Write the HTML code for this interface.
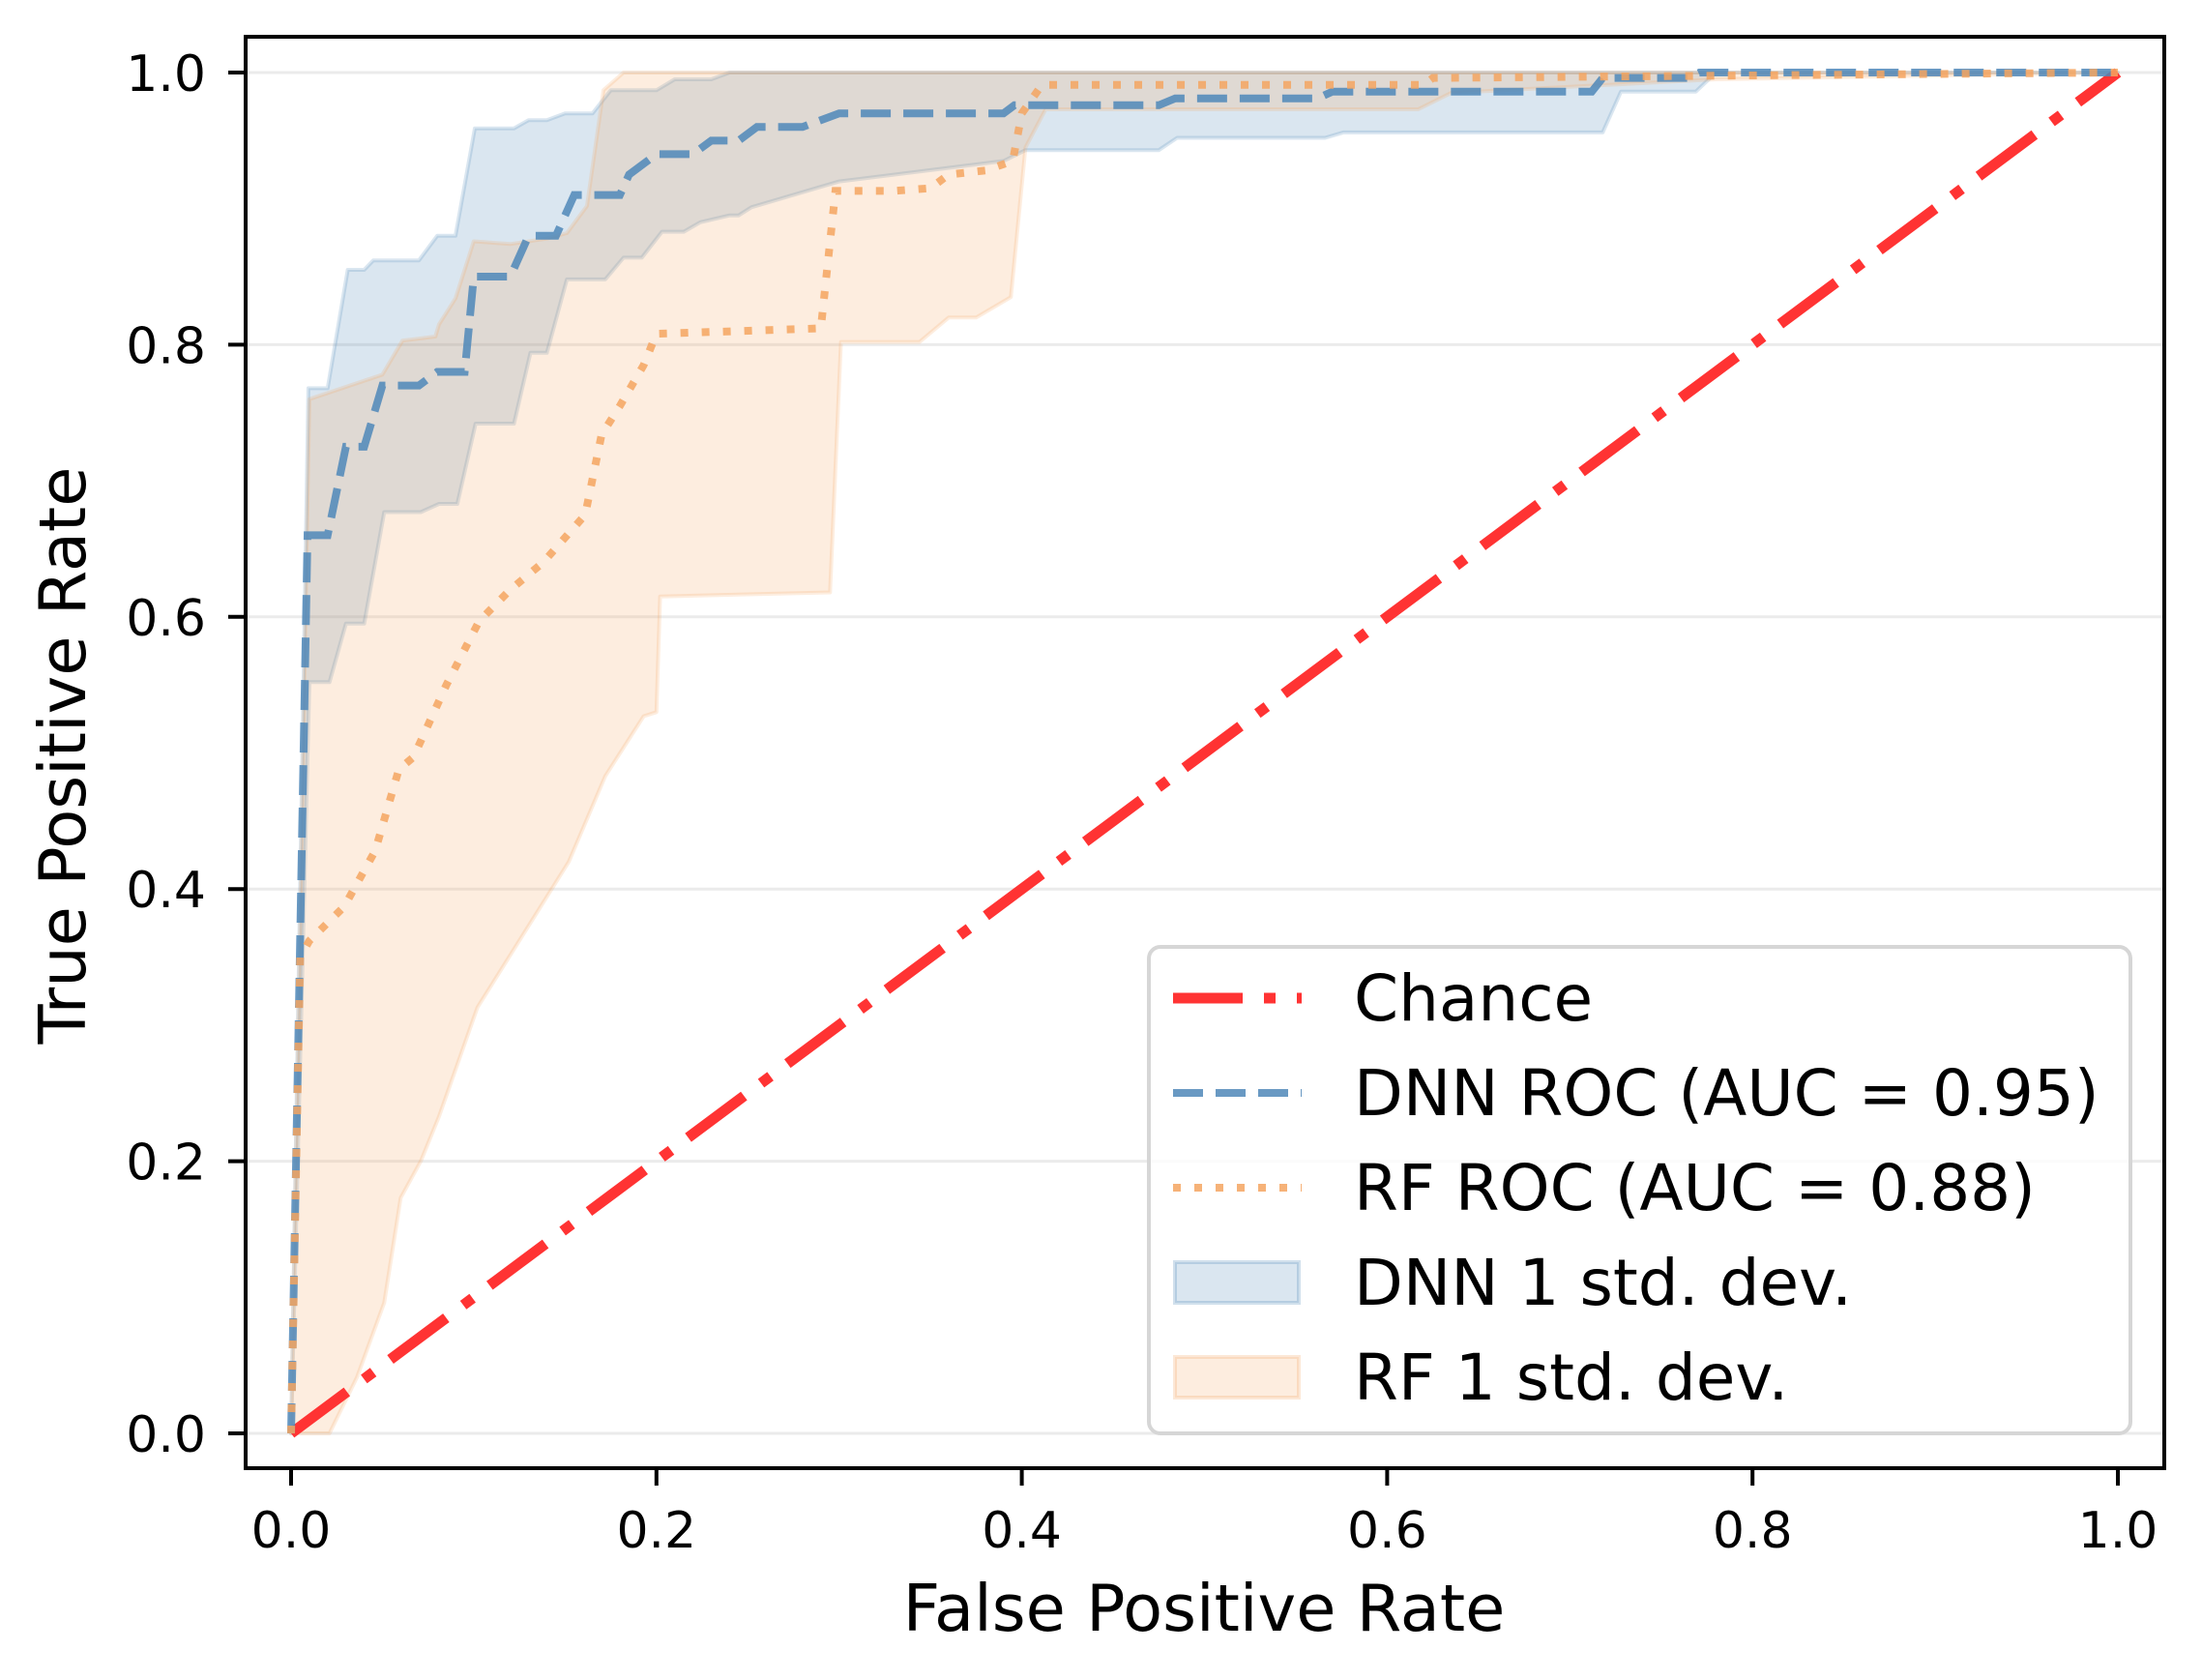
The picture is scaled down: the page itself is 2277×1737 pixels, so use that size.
<!DOCTYPE html>
<html><head><meta charset="utf-8">
<style>
html,body{margin:0;padding:0;background:#fff;}
svg{display:block;}
text{font-family:"DejaVu Sans","Liberation Sans",sans-serif;fill:#000;}
</style></head>
<body>
<svg id="chart" width="2277" height="1737" viewBox="0 0 2277 1737" xmlns="http://www.w3.org/2000/svg">
<rect x="0" y="0" width="2277" height="1737" fill="#fff"/>
<g id="grid"></g>
<g id="bands"></g>
<g id="lines"></g>
<rect x="254" y="38" width="1984" height="1480" fill="none" stroke="#000" stroke-width="4"/>
<g id="ticks"></g>
<text x="1245" y="1686" font-size="67" text-anchor="middle">False Positive Rate</text>
<text x="0" y="0" font-size="67" text-anchor="middle" transform="translate(88,781) rotate(-90)">True Positive Rate</text>
<g>
<rect x="1188" y="979" width="1015" height="503" rx="12" fill="#fff" fill-opacity="0.8" stroke="#d6d6d6" stroke-width="4"/>
<line x1="1213" y1="1032" x2="1346" y2="1032" stroke="#ff3333" stroke-width="11" stroke-dasharray="72 22 12 22"/>
<text x="1400" y="1055" font-size="66">Chance</text>
<line x1="1213" y1="1130" x2="1346" y2="1130" stroke="#4f87b9" stroke-opacity="0.85" stroke-width="8" stroke-dasharray="31 13"/>
<text x="1400" y="1153" font-size="66">DNN ROC (AUC = 0.95)</text>
<line x1="1213" y1="1228" x2="1346" y2="1228" stroke="#f4a460" stroke-opacity="0.85" stroke-width="8" stroke-dasharray="8 14"/>
<text x="1400" y="1251" font-size="66">RF ROC (AUC = 0.88)</text>
<rect x="1215" y="1305" width="128" height="42" fill="rgba(70,130,180,0.2)" stroke="rgba(70,130,180,0.25)" stroke-width="4"/>
<text x="1400" y="1349" font-size="66">DNN 1 std. dev.</text>
<rect x="1215" y="1403" width="128" height="42" fill="rgba(244,164,96,0.2)" stroke="rgba(244,164,96,0.25)" stroke-width="4"/>
<text x="1400" y="1447" font-size="66">RF 1 std. dev.</text>
</g>
</svg>
<script>
const xTicks = [0, 0.2, 0.4, 0.6, 0.8, 1.0];
const yTicks = [0, 0.2, 0.4, 0.6, 0.8, 1.0];
const tickLabels = ["0.0", "0.2", "0.4", "0.6", "0.8", "1.0"];
const chanceFpr = [0, 1];
const chanceTpr = [0, 1];
const dnnFpr = [0, 0.009, 0.02, 0.03, 0.04, 0.05, 0.07, 0.08, 0.095, 0.10, 0.12, 0.13, 0.145, 0.155, 0.18, 0.185, 0.20, 0.22, 0.23, 0.245, 0.255, 0.28, 0.29, 0.30, 0.39, 0.396, 0.475, 0.484, 0.562, 0.570, 0.712, 0.718, 0.765, 0.771, 1.0];
const dnnTpr = [0, 0.66, 0.66, 0.725, 0.725, 0.77, 0.77, 0.78, 0.78, 0.85, 0.85, 0.88, 0.88, 0.91, 0.91, 0.925, 0.94, 0.94, 0.95, 0.95, 0.96, 0.96, 0.965, 0.970, 0.970, 0.976, 0.976, 0.981, 0.981, 0.986, 0.986, 0.996, 0.996, 1.0, 1.0];
const dnnUpperFpr = [0, 0.0095, 0.02, 0.031, 0.04, 0.045, 0.07, 0.08, 0.09, 0.1006, 0.122, 0.13, 0.14, 0.15, 0.165, 0.175, 0.20, 0.21, 0.23, 0.24, 1.0];
const dnnUpperTpr = [0, 0.768, 0.768, 0.855, 0.855, 0.862, 0.862, 0.88, 0.88, 0.959, 0.959, 0.965, 0.965, 0.97, 0.97, 0.987, 0.987, 0.995, 0.995, 1.0, 1.0];
const dnnLowerFpr = [0, 0.01, 0.021, 0.030, 0.040, 0.051, 0.071, 0.081, 0.091, 0.101, 0.122, 0.131, 0.14, 0.151, 0.172, 0.182, 0.192, 0.203, 0.215, 0.224, 0.24, 0.245, 0.252, 0.30, 0.39, 0.402, 0.475, 0.485, 0.566, 0.576, 0.718, 0.728, 0.769, 0.78, 1.0];
const dnnLowerTpr = [0, 0.552, 0.552, 0.595, 0.595, 0.677, 0.677, 0.683, 0.683, 0.742, 0.742, 0.794, 0.794, 0.848, 0.848, 0.864, 0.864, 0.883, 0.883, 0.890, 0.895, 0.895, 0.901, 0.92, 0.935, 0.943, 0.943, 0.952, 0.952, 0.956, 0.956, 0.986, 0.986, 1.0, 1.0];
const rfFpr = [0, 0.005, 0.010, 0.029, 0.046, 0.059, 0.067, 0.085, 0.103, 0.12, 0.138, 0.161, 0.170, 0.18, 0.193, 0.20, 0.29, 0.298, 0.33, 0.35, 0.36, 0.38, 0.395, 0.40, 0.411, 0.62, 0.625, 1.0];
const rfTpr = [0, 0.35, 0.362, 0.387, 0.428, 0.488, 0.497, 0.55, 0.597, 0.62, 0.640, 0.675, 0.734, 0.755, 0.785, 0.808, 0.812, 0.913, 0.913, 0.915, 0.925, 0.928, 0.935, 0.97, 0.991, 0.991, 0.996, 1.0];
const rfUpperFpr = [0, 0.01, 0.05, 0.061, 0.079, 0.081, 0.09, 0.10, 0.12, 0.14, 0.151, 0.162, 0.171, 0.182, 1.0];
const rfUpperTpr = [0, 0.760, 0.778, 0.803, 0.806, 0.815, 0.834, 0.876, 0.874, 0.878, 0.882, 0.902, 0.987, 1.0, 1.0];
const rfLowerFpr = [0, 0.021, 0.036, 0.051, 0.060, 0.071, 0.081, 0.102, 0.152, 0.172, 0.193, 0.20, 0.202, 0.295, 0.301, 0.344, 0.36, 0.375, 0.394, 0.402, 0.413, 0.617, 0.635, 0.78, 1.0];
const rfLowerTpr = [0, 0, 0.041, 0.096, 0.173, 0.2, 0.233, 0.313, 0.42, 0.483, 0.527, 0.53, 0.615, 0.618, 0.802, 0.802, 0.82, 0.82, 0.835, 0.945, 0.973, 0.973, 0.985, 0.995, 1.0];

const X0 = 301, X1 = 2190, Y0 = 1482, Y1 = 75;
function sx(v){ return X0 + v * (X1 - X0); }
function sy(v){ return Y0 - v * (Y0 - Y1); }
const NS = "http://www.w3.org/2000/svg";
function mk(tag, attrs, parent){
  const el = document.createElementNS(NS, tag);
  for (const k in attrs) el.setAttribute(k, attrs[k]);
  parent.appendChild(el);
  return el;
}
function pts(xs, ys){ return xs.map((x, i) => sx(x).toFixed(1) + "," + sy(ys[i]).toFixed(1)); }

const grid = document.getElementById("grid");
yTicks.forEach((v, i) => {
  const g = mk("line", {x1: 254, x2: 2238, y1: sy(v), y2: sy(v), stroke: "#ebebeb", "stroke-width": 3}, grid);
  
  
});

const bands = document.getElementById("bands");
function band(ux, uy, lx, ly, fill, stroke, name){
  const up = pts(ux, uy);
  const lo = pts(lx, ly).reverse();
  const p = mk("polygon", {points: up.concat(lo).join(" "), fill: fill, stroke: stroke, "stroke-width": 4, "stroke-linejoin": "round"}, bands);
  
  
}
band(dnnUpperFpr, dnnUpperTpr, dnnLowerFpr, dnnLowerTpr, "rgba(70,130,180,0.2)", "rgba(70,130,180,0.2)", "dnn-std-band");
band(rfUpperFpr, rfUpperTpr, rfLowerFpr, rfLowerTpr, "rgba(244,164,96,0.2)", "rgba(244,164,96,0.2)", "rf-std-band");

const lines = document.getElementById("lines");
const c = mk("polyline", {points: pts(chanceFpr, chanceTpr).join(" "), fill: "none", stroke: "#ff3333", "stroke-width": 11, "stroke-dasharray": "72 22 12 22"}, lines);


const d = mk("polyline", {points: pts(dnnFpr, dnnTpr).join(" "), fill: "none", stroke: "#4f87b9", "stroke-opacity": 0.85, "stroke-width": 8, "stroke-dasharray": "31 13"}, lines);


const r = mk("polyline", {points: pts(rfFpr, rfTpr).join(" "), fill: "none", stroke: "#f4a460", "stroke-opacity": 0.85, "stroke-width": 8, "stroke-dasharray": "8 14"}, lines);



const ticks = document.getElementById("ticks");
xTicks.forEach((v, i) => {
  const t = mk("line", {x1: sx(v), x2: sx(v), y1: 1518, y2: 1536, stroke: "#000", "stroke-width": 4}, ticks);
  
  
  const l = mk("text", {x: sx(v), y: 1600, "font-size": 52, "text-anchor": "middle"}, ticks);
  l.textContent = tickLabels[i];
  
  
});
yTicks.forEach((v, i) => {
  const t = mk("line", {x1: 236, x2: 254, y1: sy(v), y2: sy(v), stroke: "#000", "stroke-width": 4}, ticks);
  
  
  const l = mk("text", {x: 213, y: sy(v) + 19, "font-size": 52, "text-anchor": "end"}, ticks);
  l.textContent = tickLabels[i];
  
  
});
</script>
</body></html>
